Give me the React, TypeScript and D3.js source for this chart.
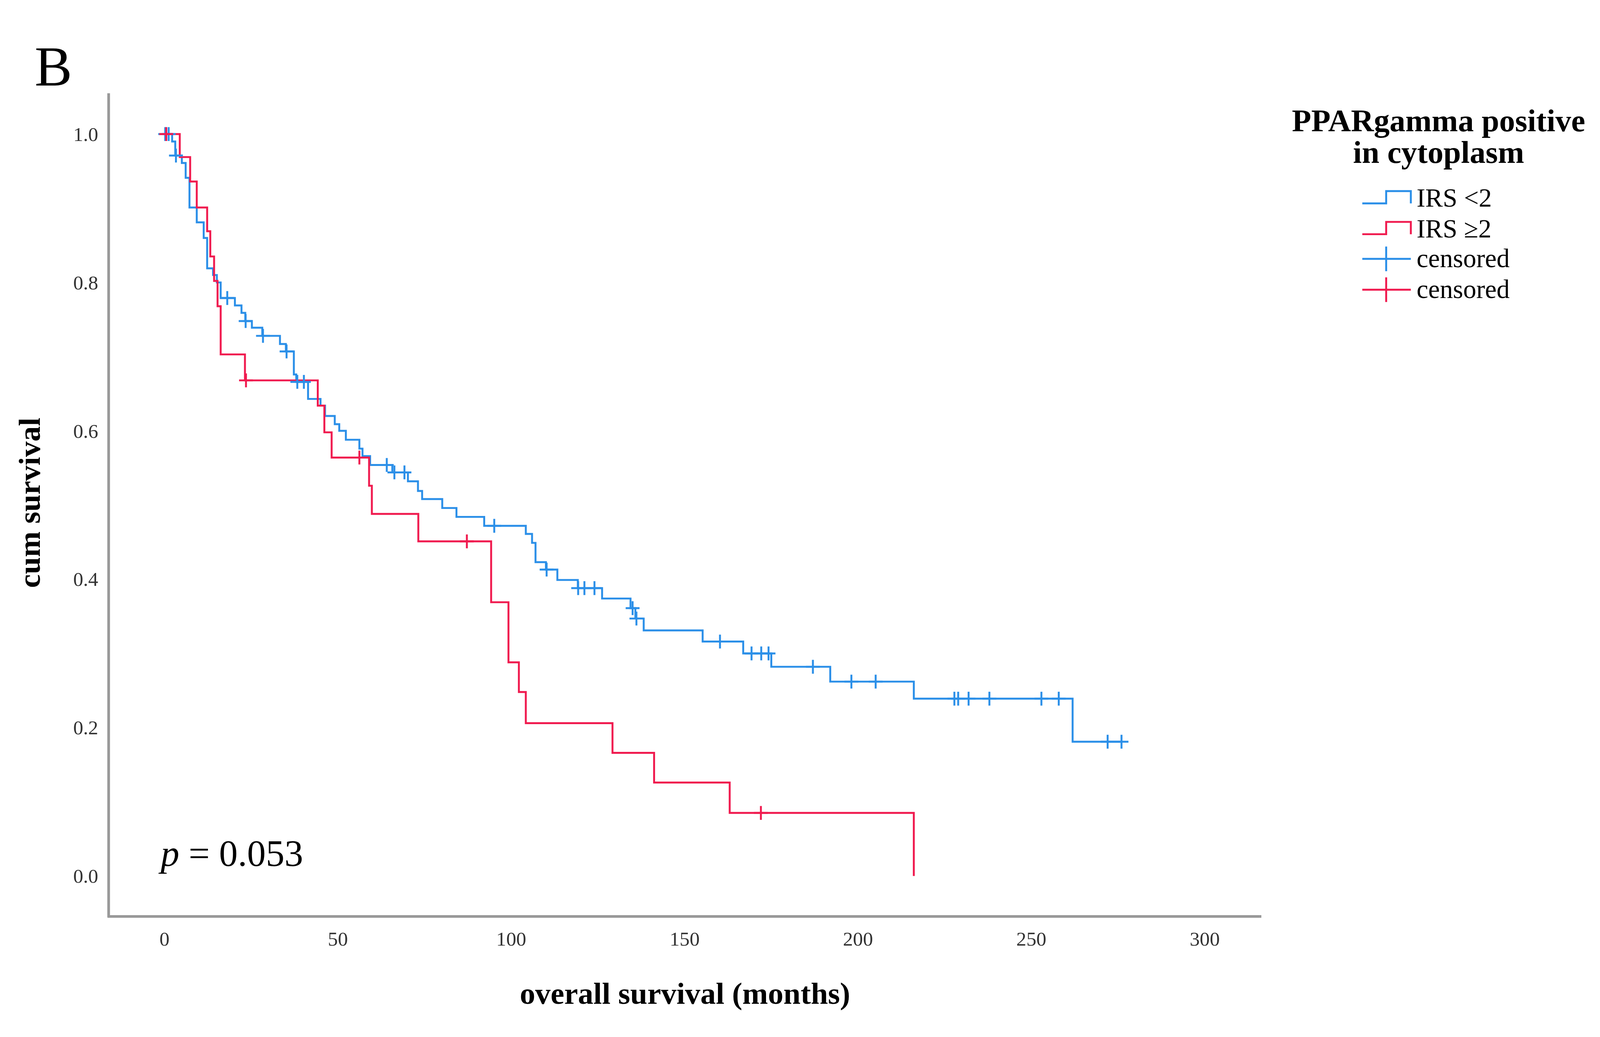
import { scaleLinear, line as d3line, curveStepAfter, bisectRight, format } from "d3";

// overall survival (months) at each step and the survival just after it
const BLUE_T = [0, 2.2, 3.1, 5.0, 6.1, 7.2, 9.3, 11.3, 12.3, 14.0, 15.1, 16.2, 20.3, 22.2, 23.3, 25.2, 28.2, 33.3, 35.0, 37.3, 38.0, 41.4, 45.0, 46.3, 49.1, 50.4, 52.3, 56.2, 57.1, 59.3, 65.7, 70.2, 73.1, 74.3, 80.1, 84.2, 92.2, 104.2, 106.0, 107.0, 110.0, 113.3, 119.2, 126.2, 134.4, 135.8, 138.2, 155.2, 166.9, 175.0, 192.0, 216.1, 261.9, 276.0];
const BLUE_S = [1.0, 0.990, 0.971, 0.961, 0.941, 0.901, 0.881, 0.860, 0.819, 0.810, 0.800, 0.779, 0.769, 0.759, 0.748, 0.739, 0.728, 0.717, 0.707, 0.676, 0.666, 0.643, 0.634, 0.620, 0.609, 0.600, 0.588, 0.576, 0.566, 0.554, 0.544, 0.532, 0.519, 0.508, 0.496, 0.484, 0.472, 0.461, 0.449, 0.423, 0.413, 0.399, 0.388, 0.374, 0.361, 0.347, 0.331, 0.316, 0.300, 0.282, 0.262, 0.239, 0.181, 0.181];
const BLUE_CENSOR = [0.2, 1.2, 3.3, 18.1, 23.4, 28.4, 35.2, 38.3, 40.2, 64.1, 66.3, 69.2, 95.1, 110.2, 119.3, 121.1, 124.0, 135.0, 136.1, 160.2, 169.3, 172.1, 174.2, 187.0, 198.1, 205.1, 227.8, 228.9, 231.9, 237.9, 252.9, 257.9, 272.0, 276.0];

const RED_T = [0, 4.4, 7.4, 9.3, 12.3, 13.2, 14.3, 15.3, 16.2, 23.2, 44.2, 46.1, 48.2, 59.0, 59.8, 73.2, 94.2, 99.2, 102.2, 104.2, 129.2, 141.2, 163.0, 216.1];
const RED_S = [1.0, 0.969, 0.936, 0.901, 0.869, 0.835, 0.802, 0.768, 0.703, 0.668, 0.634, 0.598, 0.564, 0.526, 0.488, 0.451, 0.369, 0.288, 0.248, 0.206, 0.166, 0.126, 0.085, 0.0];
const RED_CENSOR = [0.5, 23.5, 56.2, 87.2, 172.0];

const X_TICKS = [0, 50, 100, 150, 200, 250, 300];
const Y_TICKS = [0, 0.2, 0.4, 0.6, 0.8, 1.0];
const LEGEND_LABELS = ["IRS <2", "IRS \u22652", "censored", "censored"];

const BLUE = "#2b8fe8";
const RED = "#f01b4f";
const FONT = "'Liberation Serif', 'Times New Roman', serif";
const W = 4153, H = 2655;

export default function App() {
  const x = scaleLinear().domain([0, 300]).range([427, 3127]);
  const y = scaleLinear().domain([0, 1]).range([2274, 348]);
  const fmt = format(".1f");

  const path = (ts: number[], ss: number[]) =>
    d3line<number>().x(i => x(ts[i])).y(i => y(ss[i])).curve(curveStepAfter)(ts.map((_, i) => i)) ?? "";

  const survAt = (ts: number[], ss: number[], t: number) => ss[Math.max(0, bisectRight(ts, t) - 1)];

  const cross = (cx: number, cy: number, color: string, key: string | number, r = 18) => (
    <g key={key} stroke={color} strokeWidth={5}>
      <line x1={cx - r} x2={cx + r} y1={cy} y2={cy} />
      <line x1={cx} x2={cx} y1={cy - r} y2={cy + r} />
    </g>
  );

  const legRows = [514, 594, 672, 752];
  const symL = 3536, symM = 3598, symR = 3662;

  return (
    <svg viewBox={`0 0 ${W} ${H}`} fontFamily={FONT} preserveAspectRatio="xMidYMin meet"
      style={{ position: "fixed", left: 0, top: 0, width: "100vw", height: "100vh", display: "block", background: "#fff" }}>
      <rect width={W} height={H} fill="#fff" />
      <text x={90} y={222} fontSize={146}>B</text>

      {/* axes */}
      <line x1={282} x2={282} y1={242} y2={2381} stroke="#999" strokeWidth={7} />
      <line x1={279} x2={3274} y1={2379} y2={2379} stroke="#999" strokeWidth={7} />

      {Y_TICKS.map(t => (
        <text key={t} x={255} y={y(t)} textAnchor="end" dominantBaseline="central" fontSize={52} fill="#333">{fmt(t)}</text>
      ))}
      {X_TICKS.map(t => (
        <text key={t} x={x(t)} y={2455} textAnchor="middle" fontSize={52} fill="#333">{t}</text>
      ))}

      <text transform="translate(103,1305) rotate(-90)" textAnchor="middle" fontSize={80} fontWeight="bold">cum survival</text>
      <text x={1778} y={2606} textAnchor="middle" fontSize={80} fontWeight="bold">overall survival (months)</text>

      {/* curves */}
      <path d={path(BLUE_T, BLUE_S)} fill="none" stroke={BLUE} strokeWidth={5} />
      <path d={path(RED_T, RED_S)} fill="none" stroke={RED} strokeWidth={5} />
      {BLUE_CENSOR.map((t, i) => cross(x(t), y(survAt(BLUE_T, BLUE_S, t)), BLUE, "b" + i))}
      {RED_CENSOR.map((t, i) => cross(x(t), y(survAt(RED_T, RED_S, t)), RED, "r" + i))}

      <text x={417} y={2248} fontSize={97}>
        <tspan fontStyle="italic">p</tspan> = 0.053
      </text>

      {/* legend */}
      <text x={3734} y={341} textAnchor="middle" fontSize={82} fontWeight="bold">PPARgamma positive</text>
      <text x={3734} y={423} textAnchor="middle" fontSize={82} fontWeight="bold">in cytoplasm</text>
      {LEGEND_LABELS.map((lab, i) => {
        const cy = legRows[i];
        const color = i % 2 === 0 ? BLUE : RED;
        return (
          <g key={i}>
            {i < 2 ? (
              <path d={`M${symL},${cy + 14} H${symM} V${cy - 18} H${symR} V${cy + 14}`} fill="none" stroke={color} strokeWidth={5} />
            ) : (
              <g stroke={color} strokeWidth={5}>
                <line x1={symL} x2={symR} y1={cy} y2={cy} />
                <line x1={symM} x2={symM} y1={cy - 32} y2={cy + 32} />
              </g>
            )}
            <text x={3677} y={cy + 22} fontSize={68}>{lab}</text>
          </g>
        );
      })}
    </svg>
  );
}
